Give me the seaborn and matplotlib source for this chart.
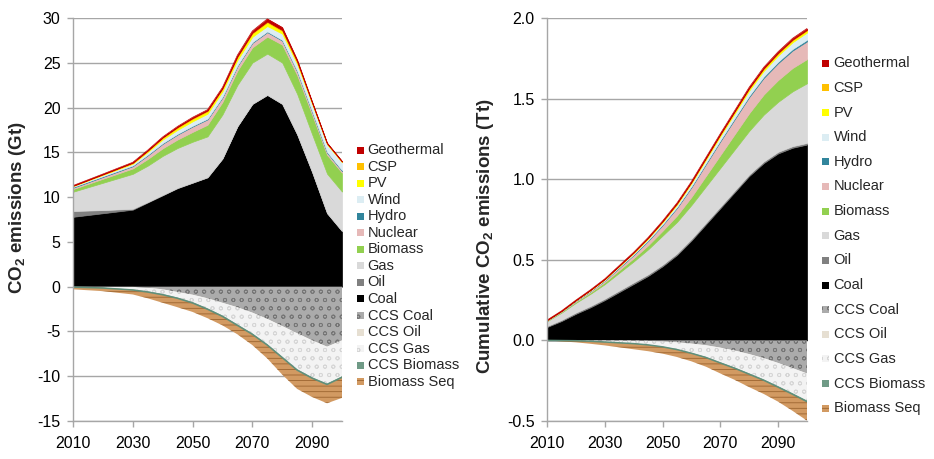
import matplotlib
matplotlib.use("Agg")
import matplotlib.pyplot as plt
from matplotlib.patches import Rectangle
from matplotlib.ticker import FormatStrFormatter
import pandas as pd
import seaborn as sns

# ---------------- data: annual emissions (Gt) ----------------
years = [2010, 2020, 2030, 2035, 2040, 2045, 2050, 2055, 2060, 2065, 2070, 2075, 2080, 2085, 2090, 2095, 2100]
coal = [7.8, 8.2, 8.6, 9.4, 10.2, 11.0, 11.6, 12.2, 14.3, 17.9, 20.4, 21.4, 20.4, 17.0, 12.8, 8.2, 6.2]
oil = [0.65, 0.35, 0.1, 0.06, 0.05, 0.04, 0.03, 0.03, 0.02, 0.02, 0.02, 0.02, 0.02, 0.02, 0.02, 0.02, 0.02]
gas = [2.15, 3.05, 3.9, 4.05, 4.35, 4.45, 4.55, 4.55, 4.9, 4.6, 4.6, 4.6, 4.6, 4.5, 4.2, 4.4, 4.4]
biomass = [0.3, 0.45, 0.6, 0.75, 0.85, 0.95, 1.1, 1.3, 1.4, 1.6, 1.7, 1.9, 2.0, 2.1, 2.2, 2.1, 2.1]
nuclear = [0.15, 0.2, 0.25, 0.4, 0.5, 0.55, 0.6, 0.6, 0.5, 0.5, 0.5, 0.5, 0.45, 0.4, 0.3, 0.25, 0.2]
hydro = [0.08, 0.08, 0.08, 0.08, 0.08, 0.08, 0.08, 0.08, 0.08, 0.08, 0.08, 0.08, 0.08, 0.08, 0.08, 0.08, 0.08]
wind = [0.1, 0.15, 0.2, 0.3, 0.4, 0.45, 0.5, 0.55, 0.6, 0.6, 0.6, 0.6, 0.7, 0.75, 0.8, 0.85, 0.9]
pv = [0.02, 0.04, 0.06, 0.1, 0.15, 0.2, 0.25, 0.25, 0.25, 0.3, 0.35, 0.4, 0.3, 0.2, 0.1, 0.05, 0.03]
csp = [0.02, 0.03, 0.05, 0.06, 0.08, 0.1, 0.1, 0.1, 0.1, 0.1, 0.1, 0.1, 0.1, 0.08, 0.06, 0.05, 0.04]
geothermal = [0.02, 0.03, 0.05, 0.05, 0.06, 0.08, 0.1, 0.1, 0.1, 0.15, 0.2, 0.3, 0.3, 0.2, 0.1, 0.06, 0.05]
ccs_coal = [0, 0, 0, -0.1, -0.3, -0.6, -0.9, -1.3, -1.8, -2.3, -2.9, -3.6, -4.4, -5.2, -6.0, -6.7, -6.0]
ccs_oil = [0, 0, -0.02, -0.02, -0.02, -0.02, -0.02, -0.02, -0.02, -0.02, -0.02, -0.02, -0.02, -0.02, -0.02, -0.02, -0.02]
ccs_gas = [-0.05, -0.12, -0.3, -0.4, -0.5, -0.6, -0.8, -1.1, -1.4, -1.9, -2.3, -2.8, -3.4, -4.0, -4.1, -4.1, -4.0]
ccs_biomass = [0, -0.03, -0.05, -0.08, -0.08, -0.08, -0.1, -0.1, -0.1, -0.1, -0.1, -0.1, -0.1, -0.1, -0.1, -0.1, -0.1]
biomass_seq = [-0.25, -0.35, -0.5, -0.7, -0.9, -1.0, -1.0, -1.0, -1.0, -1.0, -1.2, -1.5, -1.9, -2.1, -2.1, -2.1, -2.3]

# ---------------- data: cumulative emissions (Tt) ----------------
years_cum = [2010, 2015, 2020, 2025, 2030, 2035, 2040, 2045, 2050, 2055,
             2060, 2065, 2070, 2075, 2080, 2085, 2090, 2095, 2100]
coal_cum = [0.083, 0.12, 0.165, 0.205, 0.25, 0.30, 0.35, 0.40, 0.46, 0.53,
            0.62, 0.72, 0.82, 0.92, 1.02, 1.10, 1.16, 1.195, 1.215]
oil_cum = [0.006, 0.007, 0.008, 0.0085, 0.009, 0.0095, 0.01, 0.01, 0.01, 0.01,
           0.01, 0.01, 0.01, 0.01, 0.01, 0.01, 0.01, 0.01, 0.01]
gas_cum = [0.03, 0.045, 0.06, 0.075, 0.09, 0.11, 0.13, 0.155, 0.18, 0.195,
           0.21, 0.225, 0.24, 0.255, 0.27, 0.29, 0.31, 0.34, 0.37]
biomass_cum = [0.003, 0.005, 0.007, 0.009, 0.012, 0.016, 0.02, 0.025, 0.03, 0.04,
               0.05, 0.065, 0.08, 0.095, 0.11, 0.125, 0.135, 0.145, 0.15]
nuclear_cum = [0.002, 0.003, 0.005, 0.007, 0.01, 0.015, 0.02, 0.027, 0.035, 0.047,
               0.06, 0.073, 0.085, 0.093, 0.10, 0.103, 0.105, 0.108, 0.11]
hydro_cum = [0.001, 0.0015, 0.002, 0.0025, 0.003, 0.0035, 0.004, 0.0045, 0.005, 0.0055,
             0.006, 0.0065, 0.007, 0.0075, 0.008, 0.0085, 0.009, 0.0095, 0.01]
wind_cum = [0.001, 0.0015, 0.002, 0.003, 0.004, 0.006, 0.008, 0.01, 0.012, 0.015,
            0.018, 0.021, 0.025, 0.028, 0.032, 0.035, 0.038, 0.042, 0.045]
pv_cum = [0.0, 0.0, 0.001, 0.0015, 0.002, 0.0025, 0.003, 0.004, 0.005, 0.006,
          0.007, 0.008, 0.009, 0.01, 0.011, 0.0115, 0.012, 0.012, 0.012]
csp_cum = [0.0, 0.0, 0.0, 0.001, 0.001, 0.001, 0.001, 0.0015, 0.002, 0.002,
           0.002, 0.0025, 0.003, 0.0035, 0.004, 0.004, 0.004, 0.004, 0.004]
geothermal_cum = [0.0, 0.0, 0.0, 0.001, 0.001, 0.001, 0.001, 0.0015, 0.002, 0.0025,
                  0.003, 0.0035, 0.004, 0.005, 0.006, 0.007, 0.008, 0.0085, 0.009]
ccs_coal_cum = [0, 0, 0, 0, 0, 0, -0.001, -0.003, -0.006, -0.012,
                -0.02, -0.03, -0.045, -0.063, -0.085, -0.11, -0.14, -0.172, -0.205]
ccs_oil_cum = [0, 0, 0, 0, 0, 0, 0, 0, -0.001, -0.001,
               -0.001, -0.001, -0.001, -0.001, -0.001, -0.001, -0.001, -0.001, -0.001]
ccs_gas_cum = [0, -0.001, -0.002, -0.005, -0.01, -0.014, -0.018, -0.024, -0.031, -0.042,
               -0.056, -0.072, -0.09, -0.105, -0.119, -0.131, -0.143, -0.155, -0.167]
ccs_biomass_cum = [0, 0, 0, 0, 0, -0.001, -0.001, -0.001, -0.002, -0.002,
                   -0.003, -0.003, -0.004, -0.004, -0.005, -0.005, -0.006, -0.006, -0.007]
biomass_seq_cum = [0, -0.005, -0.01, -0.016, -0.021, -0.028, -0.035, -0.039, -0.042, -0.046,
                   -0.05, -0.057, -0.065, -0.072, -0.08, -0.085, -0.09, -0.103, -0.118]

pos_labels = ["Coal", "Oil", "Gas", "Biomass", "Nuclear", "Hydro", "Wind", "PV", "CSP", "Geothermal"]
neg_labels = ["CCS Coal", "CCS Oil", "CCS Gas", "CCS Biomass", "Biomass Seq"]
legend_order = ["Geothermal", "CSP", "PV", "Wind", "Hydro", "Nuclear", "Biomass", "Gas", "Oil", "Coal",
                "CCS Coal", "CCS Oil", "CCS Gas", "CCS Biomass", "Biomass Seq"]

# ---------------- style ----------------
colors = {
    "Geothermal": "#c00000", "CSP": "#ffc000", "PV": "#ffff00", "Wind": "#dcedf3",
    "Hydro": "#31859c", "Nuclear": "#e6b9b8", "Biomass": "#92d050", "Gas": "#d9d9d9",
    "Oil": "#808080", "Coal": "#000000",
    "CCS Coal": "#ababab", "CCS Oil": "#e6dfd2", "CCS Gas": "#f3f3f3",
    "CCS Biomass": "#6f9a86", "Biomass Seq": "#d29a62",
}
hatch_fg = {"CCS Coal": "#767676", "CCS Oil": "#cfc6b4", "CCS Gas": "#d6d6d6",
            "CCS Biomass": "#5f8f7a", "Biomass Seq": "#9c6530"}
hatches = {"CCS Coal": "oo", "CCS Oil": "", "CCS Gas": "oo", "CCS Biomass": "", "Biomass Seq": "---"}

sns.set_theme(style="white")
plt.rcParams["font.family"] = ["Liberation Sans", "DejaVu Sans"]
plt.rcParams["mathtext.fontset"] = "custom"
plt.rcParams["mathtext.rm"] = "Liberation Sans"
plt.rcParams["mathtext.bf"] = "Liberation Sans:bold"
plt.rcParams["axes.unicode_minus"] = False
plt.rcParams["hatch.linewidth"] = 0.6

W, H = 934, 459
fig = plt.figure(figsize=(W / 100, H / 100), dpi=100)


def fx(px):
    return px / W


def fy(py):
    return 1 - py / H


ax1 = fig.add_axes([fx(73), fy(421), fx(342) - fx(73), fy(18) - fy(421)])
ax2 = fig.add_axes([fx(547), fy(421), fx(807) - fx(547), fy(18) - fy(421)])


def draw(ax, x, pos, neg):
    pcols = ax.stackplot(x, *pos, colors=[colors[l] for l in pos_labels], zorder=3)
    for p, l in zip(pcols, pos_labels):
        p.set_edgecolor(colors[l])
        p.set_linewidth(0.5)
    ncols = ax.stackplot(x, *neg, colors=[colors[l] for l in neg_labels], zorder=3)
    for p, l in zip(ncols, neg_labels):
        p.set_edgecolor(hatch_fg[l])
        p.set_hatch(hatches[l])
        p.set_linewidth(0.0)
    df = pd.DataFrame({"year": x})
    # thin green CCS biomass boundary line
    df["bnd"] = [a + b + c + d for a, b, c, d in zip(*neg[:4])]
    sns.lineplot(data=df, x="year", y="bnd", ax=ax, color=hatch_fg["CCS Biomass"], lw=1.1, zorder=4)
    # thin geothermal top edge
    df["top"] = [sum(v) for v in zip(*pos)]
    sns.lineplot(data=df, x="year", y="top", ax=ax, color=colors["Geothermal"], lw=0.5, zorder=4)


draw(ax1, years,
     [coal, oil, gas, biomass, nuclear, hydro, wind, pv, csp, geothermal],
     [ccs_coal, ccs_oil, ccs_gas, ccs_biomass, biomass_seq])
draw(ax2, years_cum,
     [coal_cum, oil_cum, gas_cum, biomass_cum, nuclear_cum, hydro_cum, wind_cum, pv_cum, csp_cum, geothermal_cum],
     [ccs_coal_cum, ccs_oil_cum, ccs_gas_cum, ccs_biomass_cum, biomass_seq_cum])

grid_c = "#a6a6a6"
for ax, ylim, yt in [(ax1, (-15, 30), list(range(-15, 31, 5))),
                     (ax2, (-0.5, 2.0), [-0.5, 0.0, 0.5, 1.0, 1.5, 2.0])]:
    ax.set_xlim(2010, 2100)
    ax.set_ylim(*ylim)
    ax.set_yticks(yt)
    ax.set_xticks([2010, 2030, 2050, 2070, 2090])
    ax.set_xlabel("")
    ax.set_ylabel("")
    ax.grid(axis="y", color=grid_c, lw=1.0, zorder=0)
    ax.grid(axis="x", visible=False)
    for s in ["top", "right"]:
        ax.spines[s].set_visible(False)
    for s in ["left", "bottom"]:
        ax.spines[s].set_color(grid_c)
        ax.spines[s].set_linewidth(1.0)
        ax.spines[s].set_zorder(5)
    ax.tick_params(axis="both", which="major", direction="out", length=4, width=1.0,
                   color=grid_c, labelsize=11.5, labelcolor="black", pad=5,
                   left=True, bottom=True)
    ax.tick_params(axis="x", pad=7)
    ax.set_facecolor("none")

ax2.yaxis.set_major_formatter(FormatStrFormatter("%.1f"))

fig.text(fx(18), fy(208), r"CO$_\mathbf{2}$ emissions (Gt)", rotation=90,
         ha="center", va="center", fontsize=13.5, fontweight="bold")
fig.text(fx(485), fy(236), r"Cumulative CO$_\mathbf{2}$ emissions (Tt)", rotation=90,
         ha="center", va="center", fontsize=13.5, fontweight="bold")


def legend(x_marker, x_text, y0, dy, size):
    for i, lab in enumerate(legend_order):
        yc = y0 + i * dy
        r = Rectangle((fx(x_marker - size / 2), fy(yc + size / 2)), size / W, size / H,
                      transform=fig.transFigure, facecolor=colors[lab],
                      edgecolor=hatch_fg.get(lab, colors[lab]), lw=0.0,
                      hatch=hatches.get(lab, ""))
        fig.add_artist(r)
        fig.text(fx(x_text), fy(yc), lab, ha="left", va="center", fontsize=10.5)


legend(360, 367.5, 150, 16.55, 7)
legend(825.5, 833.5, 63.3, 24.64, 7)

fig.savefig("out.png", dpi=100)
